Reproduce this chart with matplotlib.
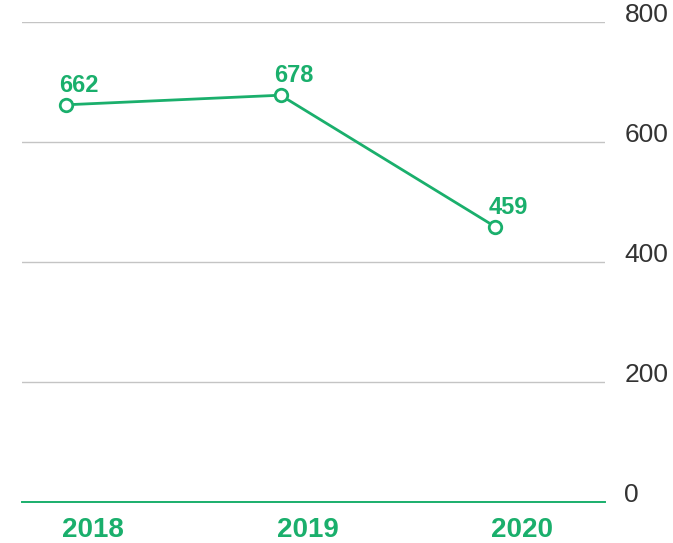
import matplotlib
matplotlib.use("Agg")
import matplotlib.pyplot as plt

years = ["2018", "2019", "2020"]
values = [662, 678, 459]
y_ticks = [0, 200, 400, 600, 800]

green = "#1aaf6c"
plt.rcParams['font.family'] = ['Liberation Sans', 'DejaVu Sans']

fig = plt.figure(figsize=(6.73, 5.43), dpi=100)
ax = fig.add_axes([22/673, 1-502/543, (605-22)/673, (502-22)/543])

x = list(range(len(years)))
ax.plot(x, values, color=green, lw=2, marker='o', ms=9, mfc='white', mec=green, mew=2, zorder=4, clip_on=False)
for xi, v in zip(x, values):
    ax.annotate(str(v), (xi, v), xytext=(13, 13), textcoords='offset pixels',
                ha='center', va='baseline', color=green, fontsize=17, fontweight='bold')

ax.set_xlim(-44/214.5, 2 + 110/214.5)
ax.set_ylim(0, 800)
ax.set_yticks(y_ticks)
ax.yaxis.tick_right()
ax.tick_params(axis='y', length=0, pad=14, labelsize=19, labelcolor='#333333')
for t in ax.get_yticklabels():
    t.set_va('baseline')
ax.grid(axis='y', color='#c4c4c4', lw=1.0)
ax.set_axisbelow(True)
for s in ['top', 'left', 'right', 'bottom']:
    ax.spines[s].set_visible(False)
ax.axhline(0, color=green, lw=1.4, zorder=3, clip_on=False)

ax.set_xticks([xi + 27/214.5 for xi in x])
ax.set_xticklabels(years)
ax.tick_params(axis='x', length=0, pad=11, labelsize=20, labelcolor=green)
for t in ax.get_xticklabels():
    t.set_fontweight('bold')

fig.savefig("out.png", dpi=100)
